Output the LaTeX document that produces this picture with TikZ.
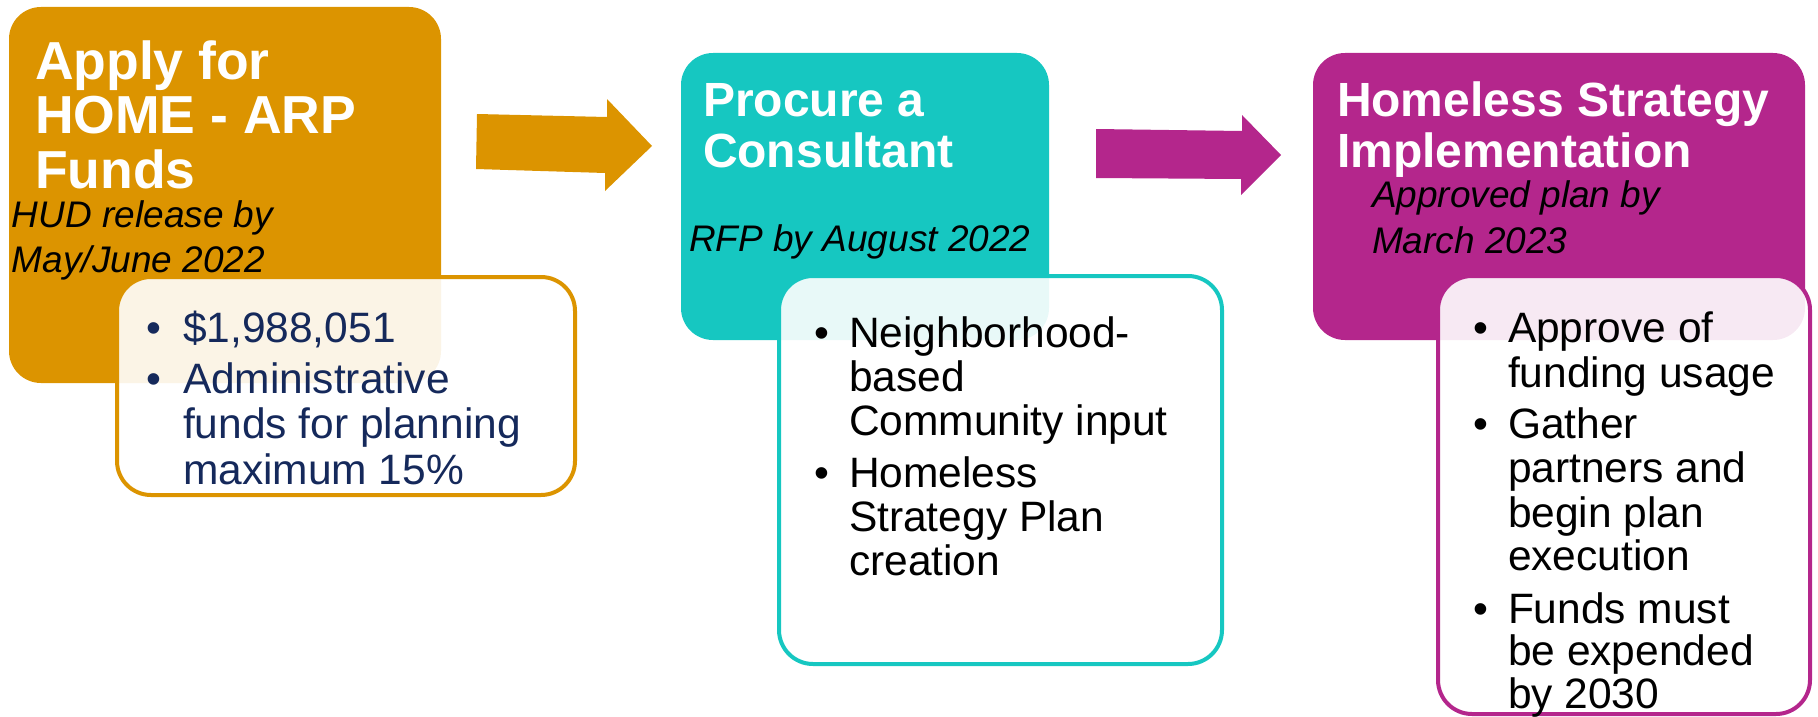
\documentclass[tikz,border=0pt]{standalone}
\usepackage{fontspec}
\setmainfont{Liberation Sans}
\definecolor{cOrange}{RGB}{220,148,0}
\definecolor{cTeal}{RGB}{22,199,193}
\definecolor{cMag}{RGB}{180,38,140}
\definecolor{cNavy}{RGB}{21,41,91}
\begin{document}
\begin{tikzpicture}[x=1pt,y=-1pt,
  stagebox/.style={rounded corners=32pt},
  detailbox/.style={rounded corners=34pt, line width=4pt, fill=white, fill opacity=0.9, draw opacity=1},
  txt/.style={anchor=base west, inner sep=0pt, outer sep=0pt},
  ttl/.style={txt, text=white, font=\fontsize{48}{50}\selectfont\bfseries},
  ttlbig/.style={txt, text=white, font=\fontsize{53.5}{55}\selectfont\bfseries},
  note/.style={txt, text=black, font=\fontsize{37}{44}\selectfont\itshape},
  itm/.style={txt, font=\fontsize{42.5}{44}\selectfont},
  dot/.style={anchor=base, inner sep=0pt, outer sep=0pt, font=\fontsize{42.5}{44}\selectfont},
  blockarrow/.style={line join=miter}
]
\useasboundingbox (0,0) rectangle (1818,717);

% ---------- stage 1 ----------
\fill[stagebox, cOrange] (9,7) rectangle (441,383);
\draw[detailbox, draw=cOrange] (117,277) rectangle (575,495);
\node[ttlbig] (t1a) at (35,79) {Apply for};
\node[ttlbig] (t1b) at (35,133) {HOME - ARP};
\node[ttlbig] (t1c) at (35,188) {Funds};
\node[note] (n1a) at (12,227) {HUD release by};
\node[note] (n1b) at (12,272) {May/June 2022};
\node[dot, text=cNavy] (b1a) at (154,342) {•};
\node[dot, text=cNavy] (b1b) at (154,393) {•};
\node[itm, text=cNavy] (i1a) at (183,342) {\$1,988,051};
\node[itm, text=cNavy] (i1b) at (183,393) {Administrative};
\node[itm, text=cNavy] (i1c) at (183,438) {funds for planning};
\node[itm, text=cNavy] (i1d) at (183,484) {maximum 15\%};

% ---------- arrow 1 ----------
\coordinate (a1s) at (477,114);
\fill[blockarrow, cOrange] (a1s) -- (607,117) -- (607,99) -- (652,146) -- (605,191) -- (605,173) -- (476,169) -- cycle;

% ---------- stage 2 ----------
\fill[stagebox, cTeal] (681,53) rectangle (1049,340);
\draw[detailbox, draw=cTeal] (779,276) rectangle (1222,664);
\node[ttl] (t2a) at (703,117) {Procure a};
\node[ttl] (t2b) at (703,167) {Consultant};
\node[note] (n2a) at (689,251) {RFP by August 2022};
\node[dot] (b2a) at (822,347) {•};
\node[dot] (b2b) at (822,487) {•};
\node[itm] (i2a) at (849,347) {Neighborhood-};
\node[itm] (i2b) at (849,391) {based};
\node[itm] (i2c) at (849,435) {Community input};
\node[itm] (i2d) at (849,487) {Homeless};
\node[itm] (i2e) at (849,531) {Strategy Plan};
\node[itm] (i2f) at (849,575) {creation};

% ---------- arrow 2 ----------
\coordinate (a2s) at (1096,129);
\fill[blockarrow, cMag] (a2s) -- (1242,131) -- (1242,115) -- (1281,155) -- (1241,195) -- (1241,179) -- (1096,178) -- cycle;

% ---------- stage 3 ----------
\fill[stagebox, cMag] (1313,53) rectangle (1805,340);
\draw[detailbox, draw=cMag] (1438,276) rectangle (1810,714);
\node[ttl] (t3a) at (1337,117) {Homeless Strategy};
\node[ttl] (t3b) at (1337,167) {Implementation};
\node[note] (n3a) at (1372,207) {Approved plan by};
\node[note] (n3b) at (1372,253) {March 2023};
\node[dot] (b3a) at (1481,342) {•};
\node[dot] (b3b) at (1481,438) {•};
\node[dot] (b3c) at (1481,623) {•};
\node[itm] (i3a) at (1508,342) {Approve of};
\node[itm] (i3b) at (1508,387) {funding usage};
\node[itm] (i3c) at (1508,438) {Gather};
\node[itm] (i3d) at (1508,482) {partners and};
\node[itm] (i3e) at (1508,527) {begin plan};
\node[itm] (i3f) at (1508,570) {execution};
\node[itm] (i3g) at (1508,623) {Funds must};
\node[itm] (i3h) at (1508,665) {be expended};
\node[itm] (i3i) at (1508,708) {by 2030};
\end{tikzpicture}
\end{document}
